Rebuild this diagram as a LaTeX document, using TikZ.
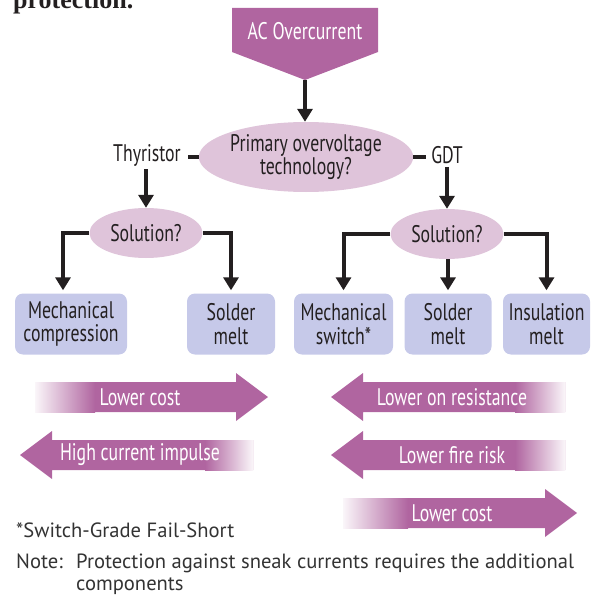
\documentclass[tikz,border=0pt]{standalone}
\usepackage{fontspec}
\usetikzlibrary{shapes.geometric,arrows.meta}
\setmainfont{Liberation Serif}
\newfontfamily\cfont[FakeStretch=0.74]{PT Sans}
\newfontfamily\nfont{PT Sans}
\definecolor{purp}{HTML}{B065A0}
\definecolor{pinkell}{HTML}{DFC4DA}
\definecolor{boxblue}{HTML}{C6C9E9}
\definecolor{ink}{HTML}{231F20}
\definecolor{notegray}{HTML}{333333}
\begin{document}
\begin{tikzpicture}[x=1pt,y=-1pt,
  conn/.style={draw=ink,line width=4pt},
  tipd/.style={-{Triangle[width=15pt,length=13pt]}},
  lbl/.style={font=\cfont\fontsize{24}{23.5}\selectfont, text=ink, align=center, inner sep=0pt},
  ell/.style={ellipse, fill=pinkell, inner sep=0pt, lbl},
  res/.style={rounded corners=8pt, fill=boxblue, minimum height=61pt, lbl},
  bartext/.style={font=\cfont\fontsize{24}{23.5}\selectfont, text=white, inner sep=0pt},
  note/.style={font=\nfont\fontsize{20.6}{22}\selectfont, text=notegray, inner sep=0pt, anchor=base west}
]
\clip (0,0) rectangle (594,596);
% cut-off heading text
\node[font=\fontsize{26}{28}\selectfont, text=ink, anchor=base west, inner sep=0pt] (head) at (13,9) {\textbf{protection.}};

% AC overcurrent pentagon
\fill[purp] (232,8) -- (378,8) -- (378,52) -- (305,80) -- (232,52) -- cycle;
\node[bartext] (ac) at (305,31) {AC Overcurrent};
\coordinate (actip) at (305,80);

% primary ellipse
\node[ell, minimum width=201pt, minimum height=70pt] (pe) at (306,157) {Primary overvoltage\\technology?};
\draw[conn,tipd] (actip) -- (actip |- pe.north);

% branch labels
\node[lbl, inner xsep=7pt, inner ysep=3pt] (thy) at (147,155) {Thyristor};
\node[lbl, inner xsep=5pt, inner ysep=3pt] (gdt) at (447,155) {GDT};
\draw[conn] (pe.west) -- (thy.east |- pe.west);
\draw[conn] (pe.east) -- (gdt.west |- pe.east);

% solution ellipses
\node[ell, minimum width=113pt, minimum height=50pt] (s1) at (146,233) {Solution?};
\node[ell, minimum width=113pt, minimum height=50pt] (s2) at (447,234) {Solution?};
\draw[conn,tipd] (thy.south -| s1.north) -- (s1.north);
\draw[conn,tipd] (gdt.south -| s2.north) -- (s2.north);

% result boxes
\node[res, minimum width=112pt] (b1) at (71,324) {Mechanical\\compression};
\node[res, minimum width=88pt] (b2) at (231,324) {Solder\\melt};
\node[res, minimum width=99pt] (b3) at (343.5,324) {Mechanical\\switch*};
\node[res, minimum width=87pt] (b4) at (448,324) {Solder\\melt};
\node[res, minimum width=87pt] (b5) at (546.5,324) {Insulation\\melt};

\draw[conn,tipd] (s1.west) -| ([xshift=-8pt,yshift=3pt]b1.north);
\draw[conn,tipd] (s1.east) -| ([yshift=3pt]b2.north);
\draw[conn,tipd] (s2.west) -| ([yshift=3pt]b3.north);
\draw[conn,tipd] (s2.south -| b4.north) -- ([yshift=3pt]b4.north);
\draw[conn,tipd] (s2.east) -| ([yshift=3pt]b5.north);

% gradient arrows
% right-pointing: Lower cost (left)
\fill[purp] (35,382) -- (236,382) -- (236,373) -- (268,397) -- (236,421) -- (236,412) -- (35,412) -- cycle;
\shade[left color=purp!6, right color=purp] (35,382) rectangle (95,412);
\node[bartext] (lc1) at (140,397) {Lower cost};
% left-pointing: High current impulse
\fill[purp] (253,440) -- (52,440) -- (52,431) -- (20,455) -- (52,479) -- (52,470) -- (253,470) -- cycle;
\shade[left color=purp, right color=purp!6] (205,440) rectangle (253,470);
\node[bartext] (hci) at (140,455) {High current impulse};
% left-pointing: Lower on resistance
\fill[purp] (565,382) -- (363,382) -- (363,373) -- (331,397) -- (363,421) -- (363,412) -- (565,412) -- cycle;
\shade[left color=purp, right color=purp!6] (515,382) rectangle (565,412);
\node[bartext] (lor) at (452,397) {Lower on resistance};
% left-pointing: Lower fire risk
\fill[purp] (565,440) -- (363,440) -- (363,431) -- (331,455) -- (363,479) -- (363,470) -- (565,470) -- cycle;
\shade[left color=purp, right color=purp!6] (515,440) rectangle (565,470);
\node[bartext] (lfr) at (452,455) {Lower fire risk};
% right-pointing: Lower cost (right)
\fill[purp] (343,498) -- (545,498) -- (545,489) -- (577,513) -- (545,537) -- (545,528) -- (343,528) -- cycle;
\shade[left color=purp!6, right color=purp] (343,498) rectangle (408,528);
\node[bartext] (lc2) at (452,513) {Lower cost};

% notes
\node[note] (fn) at (16,537) {*Switch-Grade Fail-Short};
\node[note] (nl) at (16,568) {Note:};
\node[note] (nt) at (76,568) {Protection against sneak currents requires the additional};
\node[note] (nt2) at (76,590) {components};
\end{tikzpicture}
\end{document}
